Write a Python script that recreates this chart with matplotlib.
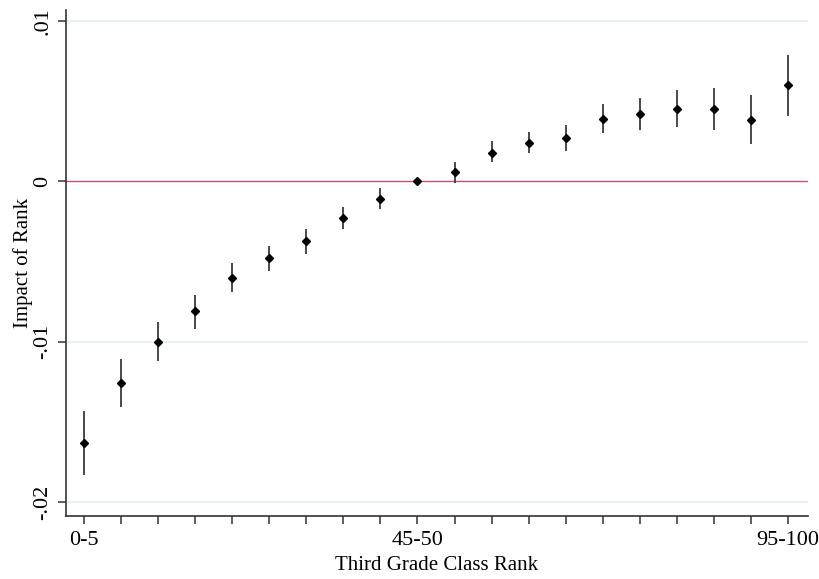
import matplotlib
matplotlib.use("Agg")
import matplotlib.pyplot as plt

plt.rcParams['font.family'] = ['Liberation Serif', 'DejaVu Serif']

ranks = list(range(1, 21))
tick_labels = {1: "0-5", 10: "45-50", 20: "95-100"}
estimate = [-0.0163, -0.0126, -0.0100, -0.0081, -0.0060, -0.0048, -0.0037, -0.0023, -0.0011, 0.0,
            0.0006, 0.0018, 0.0024, 0.0027, 0.0039, 0.0042, 0.0045, 0.0045, 0.0038, 0.0060]
ci_low = [-0.0183, -0.0141, -0.0112, -0.0092, -0.0069, -0.0056, -0.0045, -0.0030, -0.0017, 0.0,
          -0.0001, 0.0012, 0.0018, 0.0019, 0.0030, 0.0032, 0.0034, 0.0032, 0.0023, 0.0041]
ci_high = [-0.0143, -0.0111, -0.0088, -0.0071, -0.0051, -0.0040, -0.0030, -0.0016, -0.0004, 0.0,
           0.0012, 0.0025, 0.0031, 0.0035, 0.0048, 0.0052, 0.0057, 0.0058, 0.0054, 0.0079]

fig = plt.figure(figsize=(8.19, 5.79), dpi=100)
ax = fig.add_axes([0.0806, 0.1088, 0.906, 0.874])

for yv in [-0.02, -0.01, 0.01]:
    ax.axhline(yv, color='#e2eeee', lw=1.2, zorder=0)
ax.axhline(0, color='#c8506e', lw=1.0, zorder=1)

ax.vlines(ranks, ci_low, ci_high, color='#3a3a3a', lw=1.3, zorder=2)
ax.plot(ranks, estimate, linestyle='none', marker='D', markersize=4.5, color='black', zorder=3)

ax.set_xlim(0.514, 20.54)
ax.set_ylim(-0.02087, 0.01069)
ax.set_xticks(ranks)
ax.set_xticklabels([tick_labels.get(r, "") for r in ranks], fontsize=16)
ax.set_yticks([-0.02, -0.01, 0, 0.01])
ax.set_yticklabels(['-.02', '-.01', '0', '.01'], fontsize=16, rotation=90, va='center')
ax.spines['top'].set_visible(False)
ax.spines['right'].set_visible(False)
for s in ['left', 'bottom']:
    ax.spines[s].set_color('#333333')
    ax.spines[s].set_linewidth(1.2)
ax.tick_params(axis='both', length=6, color='#333333', width=1.1)
ax.tick_params(axis='x', pad=5)
ax.tick_params(axis='y', pad=4)
ax.set_xlabel("Third Grade Class Rank", fontsize=15, labelpad=4)
ax.set_ylabel("Impact of Rank", fontsize=15, labelpad=0)

fig.savefig("out.png", dpi=100)
